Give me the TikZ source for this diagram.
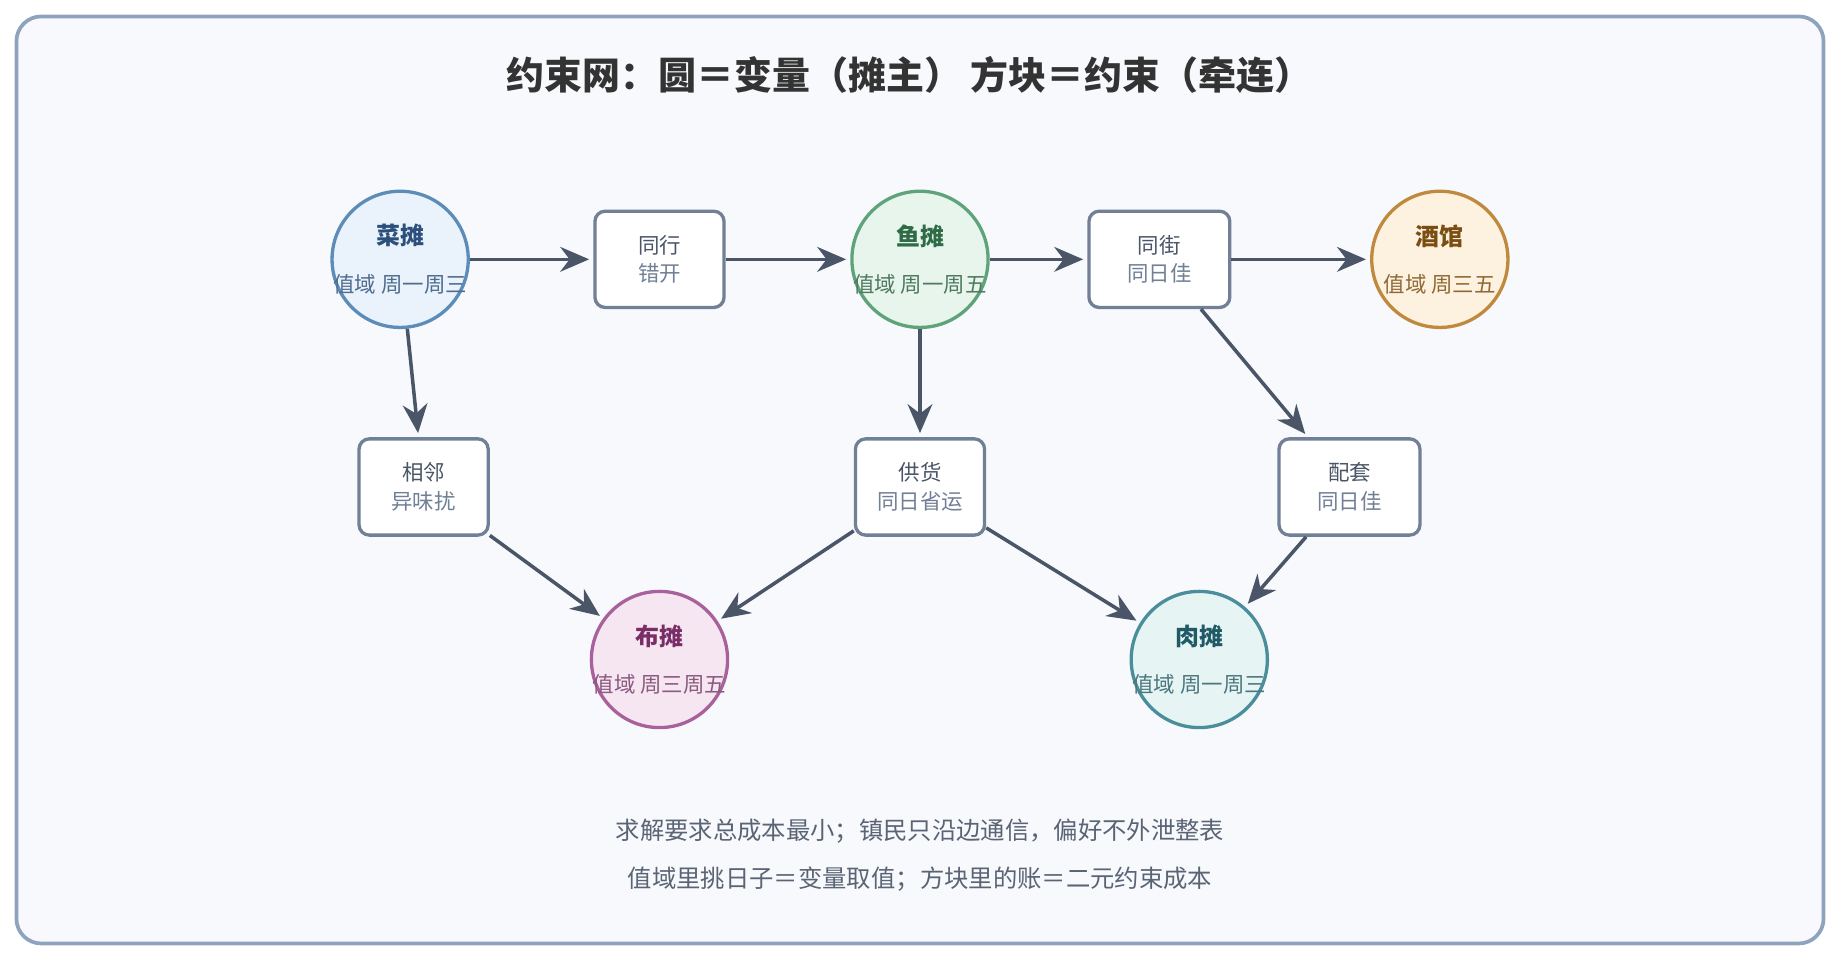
\documentclass[tikz,border=0pt]{standalone}
\usepackage{fontspec}
\setmainfont{Noto Sans CJK SC}
\usetikzlibrary{arrows.meta}
\definecolor{frame}{HTML}{8FA3BF}
\definecolor{paper}{HTML}{F7F9FC}
\definecolor{ink}{HTML}{4A5568}
\definecolor{boxline}{HTML}{718096}
\definecolor{note}{HTML}{5A6474}
\definecolor{cailine}{HTML}{5B8DB8}\definecolor{caifill}{HTML}{EAF2FB}
\definecolor{yuline}{HTML}{5FA37A}\definecolor{yufill}{HTML}{E8F5EC}
\definecolor{jiuline}{HTML}{C08A3E}\definecolor{jiufill}{HTML}{FDF1E0}
\definecolor{buline}{HTML}{A8619B}\definecolor{bufill}{HTML}{F6E6F1}
\definecolor{rouline}{HTML}{4A8E9B}\definecolor{roufill}{HTML}{E6F4F4}
\newcommand{\vartext}[4]{\makebox[0pt]{\fontsize{5.8}{7}\selectfont\bfseries\color[HTML]{#1}#2}\\[-0.5pt]\makebox[0pt]{\fontsize{5.2}{6}\selectfont\color[HTML]{#3}#4}}
\begin{document}
\begin{tikzpicture}[
		x=0.01cm, y=-0.01cm,
		line width=0.8pt,
		var/.style={circle, minimum size=1.16cm, inner sep=0pt, line width=0.8pt, align=center},
		cons/.style={draw=boxline, fill=white, rounded corners=2.5pt, minimum width=1.1cm, minimum height=0.82cm, inner sep=0pt, align=center, font=\fontsize{5.2}{8}\selectfont, text=ink},
		link/.style={draw=ink, line width=0.85pt, -{Stealth[length=7pt,width=6pt]}, shorten >=1pt},
		]
	
	% Frame
	\draw[frame, fill=paper, line width=0.9pt, rounded corners=6pt] (14,14) rectangle (1554,804);
	\useasboundingbox (0,0) rectangle (1568,818);
	
	% Title
	\node[font=\fontsize{9.2}{11}\selectfont\bfseries, text=black!80] (title) at (775,64) {约束网：圆＝变量（摊主） 方块＝约束（牵连）};
	
	% Variables
	\node[var, draw=cailine, fill=caifill] (cai) at (341,221) {\vartext{2C4F7C}{菜摊}{4F6D8F}{值域 周一周三}};
	\node[var, draw=yuline, fill=yufill] (yu) at (784,221) {\vartext{2E6B46}{鱼摊}{4F7A5F}{值域 周一周五}};
	\node[var, draw=jiuline, fill=jiufill] (jiu) at (1227,221) {\vartext{7A4E12}{酒馆}{8F6A35}{值域 周三五}};
	\node[var, draw=buline, fill=bufill] (bu) at (562,562) {\vartext{7A2E68}{布摊}{8A5A80}{值域 周三周五}};
	\node[var, draw=rouline, fill=roufill] (rou) at (1022,562) {\vartext{1F5A66}{肉摊}{4D7780}{值域 周一周三}};
	
	% Constraints
	\node[cons] (tonghang) at (562,221) {同行\\[-1pt]{\color{boxline}错开}};
	\node[cons, minimum width=1.2cm] (tongjie) at (988,221) {同街\\[-1pt]{\color{boxline}同日佳}};
	\node[cons] (xianglin) at (361,415) {相邻\\[-1pt]{\color{boxline}异味扰}};
	\node[cons] (gonghuo) at (784,415) {供货\\[-1pt]{\color{boxline}同日省运}};
	\node[cons, minimum width=1.2cm] (peitao) at (1150,415) {配套\\[-1pt]{\color{boxline}同日佳}};
	
	% Links
	\draw[link] (cai) -- (tonghang);
	\draw[link] (tonghang) -- (yu);
	\draw[link] (yu) -- (tongjie);
	\draw[link] (tongjie) -- (jiu);
	\draw[link] (cai) -- (xianglin);
	\draw[link] (xianglin) -- (bu);
	\draw[link] (yu) -- (gonghuo);
	\draw[link] (gonghuo) -- (bu);
	\draw[link] (gonghuo) -- (rou);
	\draw[link] (tongjie) -- (peitao);
	\draw[link] (peitao) -- (rou);
	
	% Notes
	\node[font=\fontsize{5.9}{7}\selectfont, text=note] (note1) at (784,708) {求解要求总成本最小；镇民只沿边通信，偏好不外泄整表};
	\node[font=\fontsize{5.9}{7}\selectfont, text=note] (note2) at (784,749) {值域里挑日子＝变量取值；方块里的账＝二元约束成本};
	
\end{tikzpicture}
\end{document}
